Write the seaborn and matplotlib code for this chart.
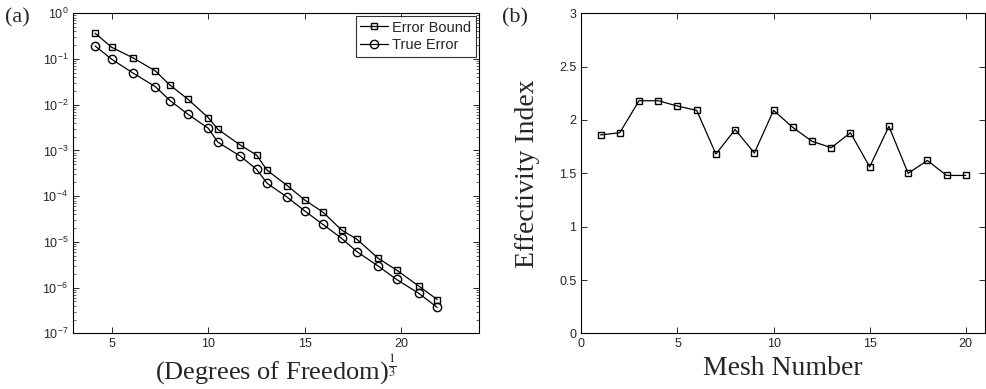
import numpy as np
import pandas as pd
import matplotlib
matplotlib.use("Agg")
import matplotlib.pyplot as plt
import matplotlib.ticker as mticker
import seaborn as sns

# ── data ───────────────────────────────────────────────────
dof_cuberoot = [4.14, 5.0, 6.08, 7.26, 8.03, 8.95, 10.0, 10.5, 11.65, 12.5,
                13.05, 14.1, 15.0, 15.93, 16.9, 17.7, 18.8, 19.75, 20.9, 21.85]
error_bound = [0.365, 0.180, 0.107, 0.0547, 0.0266, 0.01315, 0.0052, 0.0029,
               1.315e-3, 7.94e-4, 3.67e-4, 1.69e-4, 8.2e-5, 4.5e-5, 1.82e-5,
               1.14e-5, 4.37e-6, 2.42e-6, 1.08e-6, 5.5e-7]
true_error = [0.193, 0.0986, 0.050, 0.0248, 0.01225, 0.00617, 0.00305, 0.00151,
              7.55e-4, 3.87e-4, 1.91e-4, 9.4e-5, 4.73e-5, 2.42e-5, 1.2e-5,
              6.1e-6, 2.96e-6, 1.51e-6, 7.5e-7, 3.7e-7]

mesh_number = list(range(1, 21))
effectivity = [1.86, 1.88, 2.18, 2.18, 2.13, 2.09, 1.68, 1.91, 1.69, 2.09,
               1.93, 1.80, 1.74, 1.88, 1.56, 1.94, 1.50, 1.62, 1.48, 1.48]

sns.set_style("ticks")
plt.rcParams['font.family'] = ['Liberation Sans', 'DejaVu Sans']
plt.rcParams['mathtext.fontset'] = 'stix'
plt.rcParams['axes.linewidth'] = 0.8
plt.rcParams['xtick.direction'] = 'in'
plt.rcParams['ytick.direction'] = 'in'

SERIF = ['Liberation Serif', 'DejaVu Serif']

fig = plt.figure(figsize=(9.87, 3.89), dpi=100)
ax1 = fig.add_axes([0.074, 0.143, 0.411, 0.823])
ax2 = fig.add_axes([0.589, 0.143, 0.409, 0.823])

# ── (a) error bound vs true error ─────────────────────────
line_kw = dict(color='k', lw=0.9, markerfacecolor='none',
               markeredgecolor='k', markeredgewidth=1.0)
sns.lineplot(x=dof_cuberoot, y=error_bound, ax=ax1, marker='s', ms=4.5,
             label='Error Bound', **line_kw)
sns.lineplot(x=dof_cuberoot, y=true_error, ax=ax1, marker='o', ms=6,
             label='True Error', **line_kw)
ax1.set_yscale('log')
ax1.set_xlim(3, 24)
ax1.set_ylim(1e-7, 1)
ax1.set_xticks([5, 10, 15, 20])
ax1.yaxis.set_major_locator(mticker.LogLocator(base=10, numticks=10))
ax1.yaxis.set_minor_locator(mticker.LogLocator(base=10, subs=np.arange(2, 10),
                                               numticks=20))
ax1.yaxis.set_minor_formatter(mticker.NullFormatter())
ax1.tick_params(which='both', top=True, right=True, labelsize=9)
ax1.tick_params(which='major', length=4, width=0.7)
ax1.tick_params(which='minor', length=2, width=0.5)
ax1.set_xlabel(r'(Degrees of Freedom)$^{\frac{1}{3}}$', fontsize=19,
               family=SERIF, labelpad=2)
ax1.set_ylabel('')
leg = ax1.legend(loc='upper right', fontsize=10.5, frameon=True, fancybox=False,
                 edgecolor='k', handlelength=1.9, handletextpad=0.3,
                 borderpad=0.3, labelspacing=0.25, borderaxespad=0.2)
leg.get_frame().set_linewidth(0.8)

# ── (b) effectivity index ────────────────────────────────
sns.lineplot(x=mesh_number, y=effectivity, ax=ax2, marker='s', ms=4.5,
             **line_kw)
ax2.set_xlim(0, 21)
ax2.set_ylim(0, 3)
ax2.set_xticks([0, 5, 10, 15, 20])
ax2.set_yticks(np.arange(0, 3.01, 0.5))
ax2.yaxis.set_major_formatter(mticker.FuncFormatter(lambda v, p: f'{v:g}'))
ax2.tick_params(which='both', top=True, right=True, labelsize=9,
                length=4, width=0.7)
ax2.set_xlabel('Mesh Number', fontsize=20, family=SERIF, labelpad=4)
ax2.set_ylabel('Effectivity Index', fontsize=20, family=SERIF, labelpad=14)

for ax in (ax1, ax2):
    for s in ax.spines.values():
        s.set_visible(True)
        s.set_color('k')

fig.text(0.005, 0.955, '(a)', fontsize=16, family=SERIF, va='center')
fig.text(0.509, 0.955, '(b)', fontsize=16, family=SERIF, va='center')

fig.savefig('out.png', dpi=100)
